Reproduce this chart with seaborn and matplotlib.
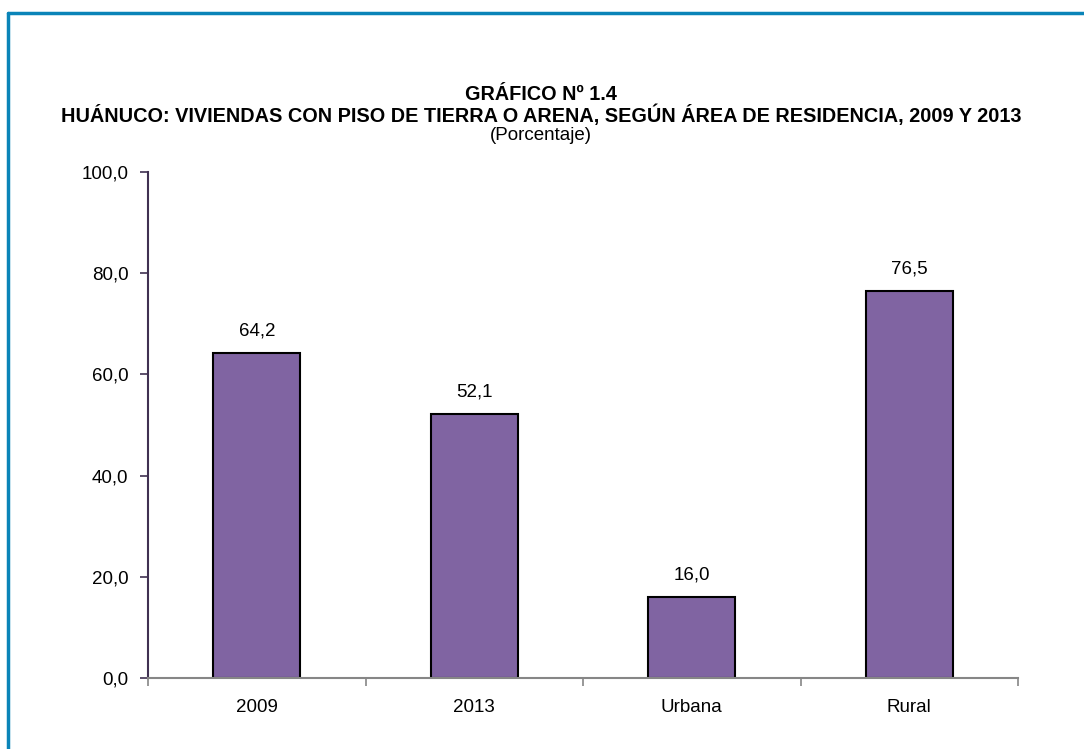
import matplotlib
matplotlib.use("Agg")
import matplotlib.pyplot as plt
import matplotlib.lines as mlines
from matplotlib.ticker import FixedLocator, NullFormatter
import seaborn as sns
import pandas as pd

categories = ["2009", "2013", "Urbana", "Rural"]
values = [64.2, 52.1, 16.0, 76.5]
value_labels = ["64,2", "52,1", "16,0", "76,5"]
yticks = [0, 20, 40, 60, 80, 100]
ytick_labels = ["0,0", "20,0", "40,0", "60,0", "80,0", "100,0"]

title1 = "GRÁFICO Nº 1.4"
title2 = "HUÁNUCO: VIVIENDAS CON PISO DE TIERRA O ARENA, SEGÚN ÁREA DE RESIDENCIA, 2009 Y 2013"
title3 = "(Porcentaje)"

sns.set_style("white")
plt.rcParams['font.family'] = ['Liberation Sans', 'DejaVu Sans']
plt.rcParams['text.color'] = 'black'
plt.rcParams['xtick.color'] = 'black'
plt.rcParams['ytick.color'] = 'black'

df = pd.DataFrame({"cat": categories, "val": values})

fig = plt.figure(figsize=(10.84, 7.49), dpi=100)
ax = fig.add_axes([148/1084, 1-678/749, (1018-148)/1084, (678-172)/749])

sns.barplot(data=df, x="cat", y="val", color="#8064a2", saturation=1,
            width=0.4, edgecolor="black", linewidth=1.5, ax=ax)

ax.set_xlim(-0.5, len(categories)-0.5)
ax.set_ylim(0, 100)
ax.set_xlabel("")
ax.set_ylabel("")

FS = 13.5

# y axis
ax.set_yticks(yticks)
ax.set_yticklabels(ytick_labels, fontsize=FS, color="black")
ax.tick_params(axis="y", direction="out", length=6, width=1.2, color="#403152", pad=8, left=True)

# x axis: ticks at category boundaries, labels at centres
ax.xaxis.set_major_locator(FixedLocator([i - 0.5 for i in range(len(categories)+1)]))
ax.xaxis.set_major_formatter(NullFormatter())
ax.xaxis.set_minor_locator(FixedLocator(list(range(len(categories)))))
ax.set_xticklabels(categories, minor=True, fontsize=FS, color="black")
ax.tick_params(axis="x", which="major", direction="out", length=6, width=1.2, color="#868686", bottom=True)
ax.tick_params(axis="x", which="minor", length=0, pad=15)

for s in ["top", "right"]:
    ax.spines[s].set_visible(False)
ax.spines["left"].set_color("#403152")
ax.spines["left"].set_linewidth(1.5)
ax.spines["bottom"].set_color("#868686")
ax.spines["bottom"].set_linewidth(1.5)

for p, lab in zip(ax.patches, value_labels):
    ax.annotate(lab, (p.get_x() + p.get_width()/2, p.get_height()),
                xytext=(0, 10), textcoords="offset points",
                ha="center", va="bottom", fontsize=FS, color="black")

fig.text(541/1084, 1-94/749, title1, ha="center", va="center", fontsize=14.3, fontweight="bold", color="black")
fig.text(541/1084, 1-115/749, title2, ha="center", va="center", fontsize=14.3, fontweight="bold", color="black")
fig.text(541/1084, 1-135/749, title3, ha="center", va="center", fontsize=FS, color="black")

# frame lines (blue border)
fig.add_artist(mlines.Line2D([8/1084, 1], [1-12.5/749, 1-12.5/749], transform=fig.transFigure,
                             color="#0a84b8", linewidth=2.5))
fig.add_artist(mlines.Line2D([8/1084, 8/1084], [0, 1-12.5/749], transform=fig.transFigure,
                             color="#0a84b8", linewidth=2.5))

fig.savefig("out.png", dpi=100)
